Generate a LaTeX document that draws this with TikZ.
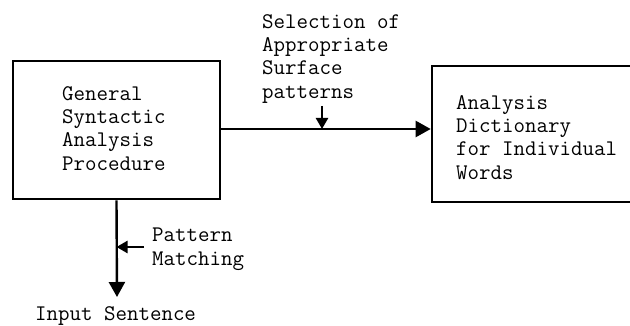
\documentclass[tikz,border=0pt]{standalone}
\usepackage{fontspec}
\usetikzlibrary{arrows.meta}
\newcommand{\twfont}{\ttfamily\addfontfeatures{FakeBold=1.6}\fontsize{22.3}{23.4}\selectfont}
\begin{document}
\begin{tikzpicture}[x=1pt,y=-1pt,
  box/.style={draw, line width=2.6pt, inner sep=0pt},
  txt/.style={font=\twfont, align=left, inner sep=0pt, anchor=north west},
  arr/.style={line width=2.4pt, -{Triangle[length=15pt,width=16pt]}},
  smallarr/.style={line width=2.4pt, -{Triangle[length=11pt,width=12pt]}}]
\useasboundingbox (0,0) rectangle (630,326);
\node[box, minimum width=207pt, minimum height=138pt] (L) at (116.5,130) {};
\node[box, minimum width=214pt, minimum height=136pt] (R) at (539,134) {};
\node[txt] (lt) at (62,86) {General\\Syntactic\\Analysis\\Procedure};
\node[txt] (rt) at (456,95) {Analysis\\Dictionary\\for Individual\\Words};
\node[txt] (st) at (262,14) {Selection of\\Appropriate\\Surface\\patterns};
\node[txt] (pt) at (152,228) {Pattern\\Matching};
\node[txt] (it) at (35,306) {Input Sentence};
\coordinate (ha) at (322,129);
\coordinate (sa) at (322,106);
\coordinate (pm) at (144,247);
\coordinate (in) at (117,297);
\draw[arr] (L.east |- ha) -- (R.west |- ha);
\draw[smallarr] (sa) -- (ha);
\draw[arr] (L.south) -- (in);
\draw[smallarr] (pm) -- (pm -| L.south);
\end{tikzpicture}
\end{document}
